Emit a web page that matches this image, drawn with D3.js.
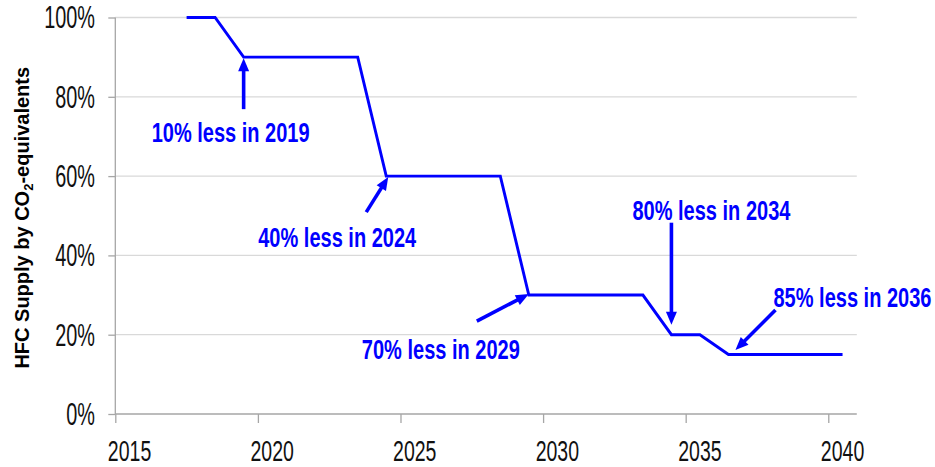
<!DOCTYPE html>
<html><head><meta charset="utf-8">
<script src="https://cdn.jsdelivr.net/npm/d3@7"></script>
<style>body{margin:0;background:#fff}svg{display:block}</style>
</head><body>
<svg id="chart" width="935" height="467"></svg>
<script>
// ---- data ----
const years  = [2017, 2018, 2019, 2023, 2024, 2028, 2029, 2033, 2034, 2035, 2036, 2040];
const supply = [1.00, 1.00, 0.90, 0.90, 0.60, 0.60, 0.30, 0.30, 0.20, 0.20, 0.15, 0.15];
const xTickValues = [2015, 2020, 2025, 2030, 2035, 2040];
const yTickValues = [0, 0.2, 0.4, 0.6, 0.8, 1.0];
const noteLabels = ["10% less in 2019", "40% less in 2024", "70% less in 2029", "80% less in 2034", "85% less in 2036"];
const noteYears  = [2019, 2024, 2029, 2034, 2036];
const noteValues = [0.90, 0.60, 0.30, 0.20, 0.15];
const yTitle = "HFC Supply by CO";

// ---- layout ----
const svg = d3.select("#chart");
const x = d3.scaleLinear().domain([2014.5, 2040.5]).range([115.3, 856.8]);
const y = d3.scaleLinear().domain([0, 1]).range([414, 17.5]);
const BLUE = "#0000ff";
const AXIS = "#a6a6a6";
const GRID = "#d9d9d9";

// gridlines
svg.append("g").selectAll("line").data(yTickValues.filter(v => v > 0)).join("line")
  .attr("x1", x.range()[0]).attr("x2", x.range()[1])
  .attr("y1", d => y(d)).attr("y2", d => y(d))
  .attr("stroke", GRID).attr("stroke-width", 1.3);

// y axis (line + ticks), labels drawn separately with condensed text
const yAxis = d3.axisLeft(y).tickValues(yTickValues).tickSize(7).tickFormat("");
const gy = svg.append("g").attr("transform", `translate(${x.range()[0]},0)`).call(yAxis);
gy.select(".domain").attr("stroke", AXIS).attr("stroke-width", 1.3).attr("d", `M0,${y(1)}V${y(0)}`);
gy.selectAll(".tick line").attr("stroke", AXIS).attr("stroke-width", 1.3);

svg.append("g").selectAll("text").data(yTickValues).join("text")
  .attr("transform", d => `translate(95,${y(d) + 10.8}) scale(0.64,1)`)
  .attr("text-anchor", "end")
  .attr("font-family", "Liberation Sans, Arial, sans-serif")
  .attr("font-size", 31).attr("fill", "#111")
  .text(d => d3.format(".0%")(d));

// x axis: ticks sit half a year left of the labelled years
const xAxis = d3.axisBottom(x).tickValues(xTickValues.map(t => t - 0.5)).tickSize(9).tickFormat("");
const gx = svg.append("g").attr("transform", `translate(0,${y(0)})`).call(xAxis);
gx.select(".domain").attr("stroke", AXIS).attr("stroke-width", 1.3).attr("d", `M${x.range()[0]},0H${x.range()[1]}`);
gx.selectAll(".tick line").attr("stroke", AXIS).attr("stroke-width", 1.3);

svg.append("g").selectAll("text").data(xTickValues).join("text")
  .attr("transform", d => `translate(${x(d)},460.5) scale(0.65,1)`)
  .attr("text-anchor", "middle")
  .attr("font-family", "Liberation Sans, Arial, sans-serif")
  .attr("font-size", 30).attr("fill", "#111")
  .text(d => d);

// y title
const tt = svg.append("text")
  .attr("transform", `translate(28.5,${(y(0) + y(1)) / 2 + 2}) rotate(-90)`)
  .attr("text-anchor", "middle")
  .attr("font-family", "Liberation Sans, Arial, sans-serif")
  .attr("font-weight", "bold").attr("font-size", 20).attr("fill", "#000");
tt.append("tspan").text(yTitle);
tt.append("tspan").attr("font-size", 13).attr("dy", 4).text("2");
tt.append("tspan").attr("dy", -4).text("-equivalents");

// line
const pts = years.map((yr, i) => [yr, supply[i]]);
svg.append("path").datum(pts)
  .attr("fill", "none").attr("stroke", BLUE).attr("stroke-width", 2.9)
  .attr("stroke-linejoin", "miter")
  .attr("d", d3.line().x(d => x(d[0])).y(d => y(d[1])));

// annotations: pixel offsets from the annotated data point
const noteLayout = [
  {tip: [0, 1],    tail: [0, 52],    text: [-92, 85]},
  {tip: [2, 1],    tail: [-20, 36],  text: [-128, 71]},
  {tip: [0, -1],   tail: [-52, 26],  text: [-167, 64]},
  {tip: [0, -10],  tail: [0, -112],  text: [-39, -115]},
  {tip: [7, -4.5], tail: [47, -44.5],text: [45, -48]}
];

function arrow(g, x0, y0, x1, y1) {
  const dx = x1 - x0, dy = y1 - y0, L = Math.hypot(dx, dy);
  const ux = dx / L, uy = dy / L, hl = 13, hw = 5.5;
  const bx = x1 - ux * hl, by = y1 - uy * hl;
  g.append("line").attr("x1", x0).attr("y1", y0).attr("x2", bx + ux * 2).attr("y2", by + uy * 2)
    .attr("stroke", BLUE).attr("stroke-width", 3.6);
  g.append("path")
    .attr("d", `M${x1},${y1}L${bx - uy * hw},${by + ux * hw}L${bx + uy * hw},${by - ux * hw}Z`)
    .attr("fill", BLUE);
}

const gn = svg.append("g");
noteLabels.forEach((lab, i) => {
  const px = x(noteYears[i]), py = y(noteValues[i]);
  const L = noteLayout[i];
  arrow(gn, px + L.tail[0], py + L.tail[1], px + L.tip[0], py + L.tip[1]);
  gn.append("text")
    .attr("transform", `translate(${px + L.text[0]},${py + L.text[1]}) scale(0.715,1)`)
    .attr("font-family", "Liberation Sans, Arial, sans-serif")
    .attr("font-weight", "bold").attr("font-size", 28).attr("fill", BLUE)
    .text(lab);
});
</script>
</body></html>
